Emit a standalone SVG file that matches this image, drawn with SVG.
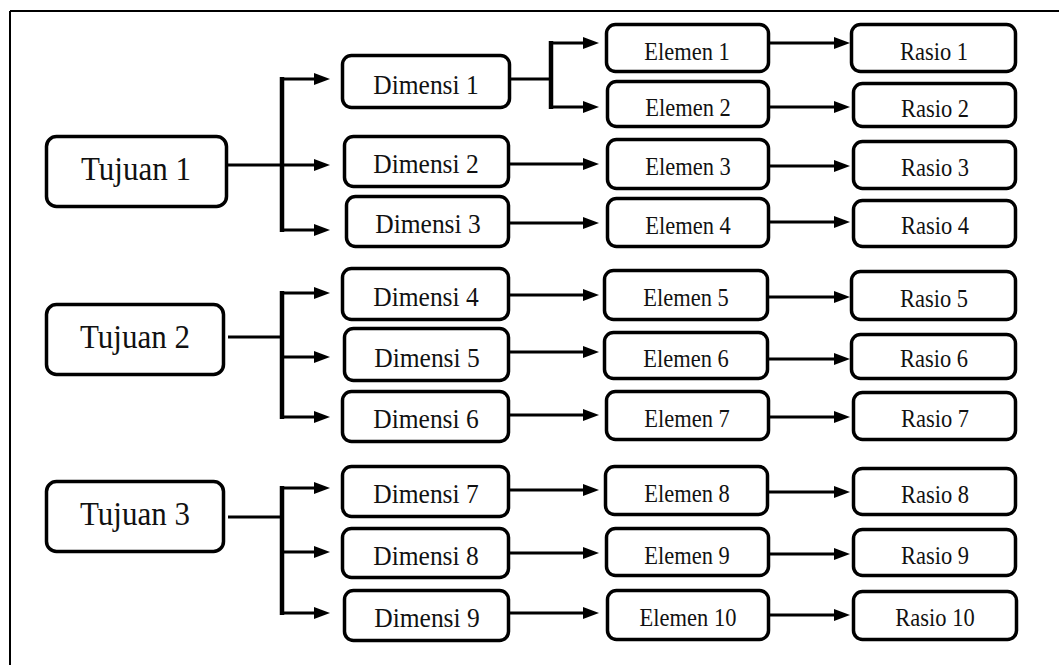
<svg xmlns="http://www.w3.org/2000/svg" width="1059" height="665" viewBox="0 0 1059 665">
<style>
.box{fill:#fff;stroke:#000;stroke-width:3.5}
.t{font-family:"Liberation Serif","Times New Roman",serif;fill:#111;text-anchor:middle}
.tj{font-size:31px}
.dm{font-size:25.5px}
.el{font-size:22.5px}
.rs{font-size:22.5px}
.ln{fill:none;stroke:#000;stroke-width:3.2}
.ar{fill:none;stroke:#000;stroke-width:3.2;marker-end:url(#ah)}
.bar{fill:none;stroke:#000;stroke-width:4.5}
</style>
<defs>
<marker id="ah" markerUnits="userSpaceOnUse" markerWidth="17" markerHeight="13" viewBox="0 0 17 13" refX="3" refY="6.5" orient="auto">
<path d="M0,0.5 L16,6.5 L0,12.5 z" fill="#000"/>
</marker>
</defs>
<rect width="1059" height="665" fill="#fff"/>
<g id="frame">
<path d="M10,11 H1059 M10,11 V665" fill="none" stroke="#000" stroke-width="2"/>
</g>
<g id="connectors">
<path class="ar" d="M228,165 H317"/>
<path class="bar" d="M282,77 V232"/>
<path class="ar" d="M280,79 H317"/>
<path class="ar" d="M280,230 H317"/>
<path class="ln" d="M228,337 H282"/>
<path class="bar" d="M282,291 V419"/>
<path class="ar" d="M280,293 H317"/>
<path class="ar" d="M280,357 H317"/>
<path class="ar" d="M280,417 H317"/>
<path class="ln" d="M228,517 H282"/>
<path class="bar" d="M282,486 V615"/>
<path class="ar" d="M280,488 H317"/>
<path class="ar" d="M280,552 H317"/>
<path class="ar" d="M280,613 H317"/>
<path class="ln" d="M511,79 H551"/>
<path class="bar" d="M551,41 V109"/>
<path class="ar" d="M549,43 H586"/>
<path class="ar" d="M549,107 H586"/>
<path class="ar" d="M510,164 H586"/>
<path class="ar" d="M510,223 H586"/>
<path class="ar" d="M510,295 H586"/>
<path class="ar" d="M510,352 H586"/>
<path class="ar" d="M510,415 H586"/>
<path class="ar" d="M510,490 H586"/>
<path class="ar" d="M510,553 H586"/>
<path class="ar" d="M510,613 H586"/>
<path class="ar" d="M770,43 H837"/>
<path class="ar" d="M770,107 H837"/>
<path class="ar" d="M770,166 H837"/>
<path class="ar" d="M770,222 H837"/>
<path class="ar" d="M769,297 H837"/>
<path class="ar" d="M769,359 H837"/>
<path class="ar" d="M770,417 H837"/>
<path class="ar" d="M769,492 H837"/>
<path class="ar" d="M770,554 H837"/>
<path class="ar" d="M770,615 H837"/>
</g>
<g id="tujuan1"><rect class="box" x="46.5" y="136.5" width="180" height="70" rx="10"/><text class="t tj" transform="translate(136,180) scale(1,1.12)">Tujuan 1</text></g>
<g id="tujuan2"><rect class="box" x="46.5" y="304.5" width="177" height="70" rx="10"/><text class="t tj" transform="translate(135,348) scale(1,1.12)">Tujuan 2</text></g>
<g id="tujuan3"><rect class="box" x="46.5" y="481.5" width="177" height="70" rx="10"/><text class="t tj" transform="translate(135,525) scale(1,1.12)">Tujuan 3</text></g>
<g id="dimensi1"><rect class="box" x="342.5" y="55.5" width="167" height="52" rx="9"/><text class="t dm" transform="translate(426,94) scale(1,1.06)">Dimensi 1</text></g>
<g id="dimensi2"><rect class="box" x="344.5" y="136.5" width="164" height="50" rx="9"/><text class="t dm" transform="translate(426,173) scale(1,1.06)">Dimensi 2</text></g>
<g id="dimensi3"><rect class="box" x="346.5" y="196.5" width="162" height="50" rx="9"/><text class="t dm" transform="translate(428,233) scale(1,1.06)">Dimensi 3</text></g>
<g id="dimensi4"><rect class="box" x="342.5" y="268.5" width="166" height="51" rx="9"/><text class="t dm" transform="translate(426,306) scale(1,1.06)">Dimensi 4</text></g>
<g id="dimensi5"><rect class="box" x="344.5" y="328.5" width="164" height="52" rx="9"/><text class="t dm" transform="translate(427,367) scale(1,1.06)">Dimensi 5</text></g>
<g id="dimensi6"><rect class="box" x="342.5" y="391.5" width="166" height="50" rx="9"/><text class="t dm" transform="translate(426,428) scale(1,1.06)">Dimensi 6</text></g>
<g id="dimensi7"><rect class="box" x="342.5" y="466.5" width="166" height="50" rx="9"/><text class="t dm" transform="translate(426,503) scale(1,1.06)">Dimensi 7</text></g>
<g id="dimensi8"><rect class="box" x="342.5" y="528.5" width="166" height="49" rx="9"/><text class="t dm" transform="translate(426,565) scale(1,1.06)">Dimensi 8</text></g>
<g id="dimensi9"><rect class="box" x="344.5" y="590.5" width="164" height="50" rx="9"/><text class="t dm" transform="translate(427,627) scale(1,1.06)">Dimensi 9</text></g>
<g id="elemen1"><rect class="box" x="606.5" y="24.5" width="162" height="47" rx="9"/><text class="t el" transform="translate(687,60) scale(1,1.12)">Elemen 1</text></g>
<g id="elemen2"><rect class="box" x="607.5" y="81.5" width="161" height="45" rx="9"/><text class="t el" transform="translate(688,116) scale(1,1.12)">Elemen 2</text></g>
<g id="elemen3"><rect class="box" x="607.5" y="139.5" width="161" height="49" rx="9"/><text class="t el" transform="translate(688,175) scale(1,1.12)">Elemen 3</text></g>
<g id="elemen4"><rect class="box" x="607.5" y="198.5" width="161" height="48" rx="9"/><text class="t el" transform="translate(688,234) scale(1,1.12)">Elemen 4</text></g>
<g id="elemen5"><rect class="box" x="604.5" y="270.5" width="163" height="49" rx="9"/><text class="t el" transform="translate(686,306) scale(1,1.12)">Elemen 5</text></g>
<g id="elemen6"><rect class="box" x="604.5" y="332.5" width="163" height="46" rx="9"/><text class="t el" transform="translate(686,367) scale(1,1.12)">Elemen 6</text></g>
<g id="elemen7"><rect class="box" x="606.5" y="391.5" width="162" height="48" rx="9"/><text class="t el" transform="translate(687,427) scale(1,1.12)">Elemen 7</text></g>
<g id="elemen8"><rect class="box" x="605.5" y="466.5" width="162" height="48" rx="9"/><text class="t el" transform="translate(687,502) scale(1,1.12)">Elemen 8</text></g>
<g id="elemen9"><rect class="box" x="606.5" y="528.5" width="162" height="47" rx="9"/><text class="t el" transform="translate(687,564) scale(1,1.12)">Elemen 9</text></g>
<g id="elemen10"><rect class="box" x="607.5" y="590.5" width="161" height="49" rx="9"/><text class="t el" transform="translate(688,626) scale(1,1.12)">Elemen 10</text></g>
<g id="rasio1"><rect class="box" x="851.5" y="24.5" width="164" height="47" rx="9"/><text class="t rs" transform="translate(934,60) scale(1,1.12)">Rasio 1</text></g>
<g id="rasio2"><rect class="box" x="853.5" y="83.5" width="162" height="43" rx="9"/><text class="t rs" transform="translate(935,117) scale(1,1.12)">Rasio 2</text></g>
<g id="rasio3"><rect class="box" x="853.5" y="141.5" width="162" height="47" rx="9"/><text class="t rs" transform="translate(935,176) scale(1,1.12)">Rasio 3</text></g>
<g id="rasio4"><rect class="box" x="853.5" y="200.5" width="162" height="46" rx="9"/><text class="t rs" transform="translate(935,234) scale(1,1.12)">Rasio 4</text></g>
<g id="rasio5"><rect class="box" x="851.5" y="271.5" width="164" height="48" rx="9"/><text class="t rs" transform="translate(934,307) scale(1,1.12)">Rasio 5</text></g>
<g id="rasio6"><rect class="box" x="851.5" y="334.5" width="164" height="44" rx="9"/><text class="t rs" transform="translate(934,367) scale(1,1.12)">Rasio 6</text></g>
<g id="rasio7"><rect class="box" x="853.5" y="392.5" width="162" height="47" rx="9"/><text class="t rs" transform="translate(935,427) scale(1,1.12)">Rasio 7</text></g>
<g id="rasio8"><rect class="box" x="853.5" y="468.5" width="162" height="46" rx="9"/><text class="t rs" transform="translate(935,503) scale(1,1.12)">Rasio 8</text></g>
<g id="rasio9"><rect class="box" x="853.5" y="529.5" width="162" height="46" rx="9"/><text class="t rs" transform="translate(935,564) scale(1,1.12)">Rasio 9</text></g>
<g id="rasio10"><rect class="box" x="853.5" y="591.5" width="163" height="48" rx="9"/><text class="t rs" transform="translate(935,626) scale(1,1.12)">Rasio 10</text></g>
</svg>
